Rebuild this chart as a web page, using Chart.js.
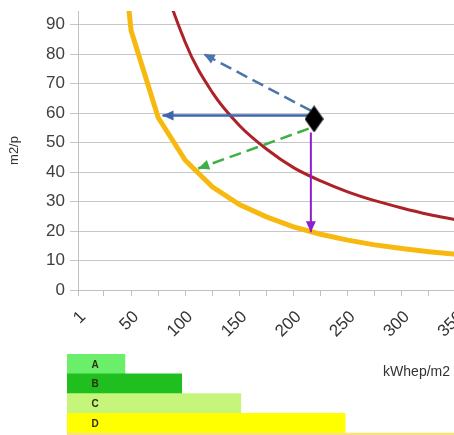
<!DOCTYPE html>
<html lang="fr">
<head>
    <meta charset="UTF-8">
    <title>m2/p vs kWhep/m2</title>
    <script src="https://cdnjs.cloudflare.com/ajax/libs/Chart.js/4.4.0/chart.umd.min.js"></script>
    <style>
        html, body { margin: 0; padding: 0; background: #fff; }
        #wrap { position: relative; width: 454px; height: 435px; overflow: hidden; }
        #curveBox { position: absolute; left: 0; top: 0; }
        #labelBox { position: absolute; left: 0; top: 345px; }
    </style>
</head>
<body>
<div id="wrap">
    <div id="curveBox"><canvas id="curveChart" width="467" height="345"></canvas></div>
    <div id="labelBox"><canvas id="labelChart" width="454" height="110"></canvas></div>
</div>

<script>
    // valeurs
    const kwhValues = [1, 25, 50, 75, 100, 125, 150, 175, 200, 225, 250, 275, 300, 325, 350];
    const lowCurve = [4400, 176, 88, 58.5, 44, 35, 29, 24.8, 21.4, 18.9, 16.9, 15.3, 14.1, 13, 12.1];
    const highCurve = [8300, 335, 168, 113, 84, 67, 55.8, 47.8, 41.5, 37, 33.3, 30.3, 27.8, 25.6, 23.8];
    const xLabelValues = [1, 50, 100, 150, 200, 250, 300, 350];
    const yTicks = [0, 10, 20, 30, 40, 50, 60, 70, 80, 90];

    // le point actuel et les fleches
    const currentPoint = { x: 219, y: 58 };
    const arrowBlueDashed = [{ x: 216, y: 60.8 }, { x: 117, y: 80 }];
    const arrowBlueSolid = [{ x: 216, y: 59.2 }, { x: 79, y: 59.2 }];
    const arrowGreenDashed = [{ x: 214, y: 54.7 }, { x: 112, y: 41.2 }];
    const arrowPurple = [{ x: 216, y: 53.4 }, { x: 216, y: 19.6 }];

    // etiquette energie
    const classNames = ['A', 'B', 'C', 'D', 'E'];
    const classValues = [50, 99, 150, 240, 340];
    const classColors = ['#6bef6b', '#1fbf1f', '#c5f57a', '#ffff00', '#f8e27a'];

    const fontName = "'Liberation Sans', Arial, sans-serif";

    // petit losange noir pour le point
    const diamond = document.createElement('canvas');
    diamond.width = 19;
    diamond.height = 27;
    const dctx = diamond.getContext('2d');
    dctx.fillStyle = '#000';
    dctx.beginPath();
    dctx.moveTo(9.5, 0);
    dctx.lineTo(19, 13.5);
    dctx.lineTo(9.5, 27);
    dctx.lineTo(0, 13.5);
    dctx.closePath();
    dctx.fill();

    const arrowHeads = {
        id: 'arrowHeads',
        afterDatasetsDraw(chart) {
            const ctx = chart.ctx;
            const xs = chart.scales.x, ys = chart.scales.y;
            chart.data.datasets.forEach(ds => {
                if (!ds.arrow) return;
                const p0 = ds.data[0], p1 = ds.data[1];
                const x0 = xs.getPixelForValue(p0.x), y0 = ys.getPixelForValue(p0.y);
                const x1 = xs.getPixelForValue(p1.x), y1 = ys.getPixelForValue(p1.y);
                const a = Math.atan2(y1 - y0, x1 - x0);
                const len = 11, half = 5;
                ctx.save();
                ctx.fillStyle = ds.borderColor;
                ctx.beginPath();
                ctx.moveTo(x1, y1);
                ctx.lineTo(x1 - len * Math.cos(a) + half * Math.sin(a), y1 - len * Math.sin(a) - half * Math.cos(a));
                ctx.lineTo(x1 - len * Math.cos(a) - half * Math.sin(a), y1 - len * Math.sin(a) + half * Math.cos(a));
                ctx.closePath();
                ctx.fill();
                ctx.restore();
            });
        }
    };

    function arrowSet(points, color, dash, width) {
        return {
            type: 'line',
            data: points,
            borderColor: color,
            borderWidth: width,
            borderDash: dash,
            pointRadius: 0,
            fill: false,
            arrow: true
        };
    }

    new Chart(document.getElementById('curveChart'), {
        type: 'line',
        data: {
            datasets: [
                {
                    type: 'scatter',
                    data: [currentPoint],
                    pointStyle: diamond,
                    pointRadius: 10
                },
                arrowSet(arrowBlueDashed, '#4d74ad', [12, 6], 2.5),
                arrowSet(arrowBlueSolid, '#3c66b0', [], 2.5),
                arrowSet(arrowGreenDashed, '#3cb043', [12, 6], 2.5),
                arrowSet(arrowPurple, '#8e1fcc', [], 2),
                {
                    data: kwhValues.map((v, i) => ({ x: v, y: highCurve[i] })),
                    borderColor: '#ad2228',
                    borderWidth: 3,
                    pointRadius: 0,
                    cubicInterpolationMode: 'monotone'
                },
                {
                    data: kwhValues.map((v, i) => ({ x: v, y: lowCurve[i] })),
                    borderColor: '#f7b90f',
                    borderWidth: 5,
                    pointRadius: 0,
                    tension: 0
                }
            ]
        },
        options: {
            responsive: false,
            animation: false,
            layout: { padding: { top: 10, left: 0, right: 0, bottom: 0 } },
            plugins: { legend: { display: false }, tooltip: { enabled: false } },
            scales: {
                x: {
                    type: 'linear',
                    min: 1,
                    max: 350,
                    afterBuildTicks: scale => { scale.ticks = kwhValues.map(v => ({ value: v })); },
                    afterFit: scale => {
                        scale.height = 55;
                        scale.paddingLeft = 0;
                        scale.paddingRight = 0;
                    },
                    grid: { drawOnChartArea: false, drawTicks: true, tickLength: 6, color: '#bfbfbf' },
                    border: { color: '#bfbfbf' },
                    ticks: {
                        autoSkip: false,
                        minRotation: 45,
                        maxRotation: 45,
                        padding: 11,
                        labelOffset: 5,
                        color: '#333',
                        font: { family: fontName, size: 17 },
                        callback: v => xLabelValues.includes(v) ? String(v) : ''
                    }
                },
                y: {
                    min: 0,
                    max: 94.6,
                    afterBuildTicks: scale => { scale.ticks = yTicks.map(v => ({ value: v })); },
                    afterFit: scale => {
                        scale.width = 78;
                        scale.paddingTop = 0;
                        scale.paddingBottom = 0;
                    },
                    grid: { color: '#c6c6c6', tickLength: 8 },
                    border: { color: '#bfbfbf' },
                    ticks: {
                        padding: 5,
                        color: '#404040',
                        font: { family: fontName, size: 17 }
                    },
                    title: {
                        display: true,
                        text: 'm2/p',
                        color: '#333',
                        padding: { top: 7, bottom: 20 },
                        font: { family: fontName, size: 13 }
                    }
                }
            }
        },
        plugins: [arrowHeads]
    });

    const classLetters = {
        id: 'classLetters',
        afterDatasetsDraw(chart) {
            const ctx = chart.ctx;
            const meta = chart.getDatasetMeta(0);
            ctx.save();
            ctx.fillStyle = '#2e2e10';
            ctx.font = 'bold 10px ' + fontName;
            ctx.textAlign = 'center';
            ctx.textBaseline = 'middle';
            meta.data.forEach((bar, i) => {
                ctx.fillText(classNames[i], bar.base + 28, bar.y + 1);
            });
            ctx.font = '14px ' + fontName;
            ctx.fillStyle = '#333';
            ctx.textAlign = 'right';
            ctx.fillText('kWhep/m2', chart.width - 4, 27);
            ctx.restore();
        }
    };

    new Chart(document.getElementById('labelChart'), {
        type: 'bar',
        data: {
            labels: classNames,
            datasets: [{
                data: classValues,
                backgroundColor: classColors,
                barPercentage: 1,
                categoryPercentage: 1
            }]
        },
        options: {
            indexAxis: 'y',
            responsive: false,
            animation: false,
            layout: { padding: { top: 9, left: 67, right: 0, bottom: 2 } },
            plugins: { legend: { display: false }, tooltip: { enabled: false } },
            scales: {
                x: { display: false, min: 0, max: 334 },
                y: { display: false }
            }
        },
        plugins: [classLetters]
    });
</script>
</body>
</html>
